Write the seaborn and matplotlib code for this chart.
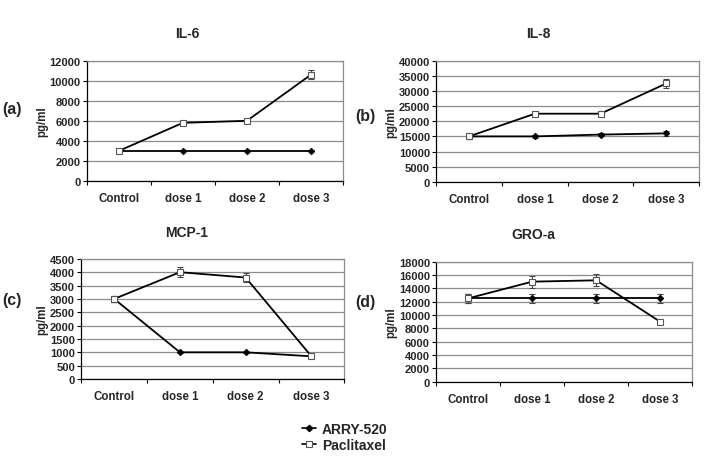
import numpy as np
import pandas as pd
import matplotlib
matplotlib.use("Agg")
import matplotlib.pyplot as plt
import seaborn as sns
from matplotlib.lines import Line2D
from matplotlib.ticker import FixedLocator, MultipleLocator

categories = ["Control", "dose 1", "dose 2", "dose 3"]
series_names = ["ARRY-520", "Paclitaxel"]

il6_arry = [3000, 3000, 3000, 3000]
il6_arry_err = [100, 60, 60, 60]
il6_pac = [3000, 5800, 6000, 10600]
il6_pac_err = [100, 200, 150, 450]

il8_arry = [15000, 15000, 15600, 16000]
il8_arry_err = [700, 600, 500, 800]
il8_pac = [15000, 22500, 22500, 32500]
il8_pac_err = [700, 800, 800, 1600]

mcp1_arry = [3000, 1000, 1000, 850]
mcp1_arry_err = [100, 20, 20, 30]
mcp1_pac = [3000, 4000, 3800, 850]
mcp1_pac_err = [100, 180, 180, 40]

gro_arry = [12500, 12500, 12500, 12500]
gro_arry_err = [700, 700, 700, 700]
gro_pac = [12500, 15000, 15200, 9000]
gro_pac_err = [700, 900, 900, 200]

panels = [
    dict(title="IL-6", tag="(a)", arry=il6_arry, arry_err=il6_arry_err, pac=il6_pac, pac_err=il6_pac_err,
         ymax=12000, step=2000, rect=[0.123, 0.608, 0.362, 0.259], title_xy=(187, 34), tag_xy=(12, 110)),
    dict(title="IL-8", tag="(b)", arry=il8_arry, arry_err=il8_arry_err, pac=il8_pac, pac_err=il8_pac_err,
         ymax=40000, step=5000, rect=[0.617, 0.606, 0.372, 0.261], title_xy=(538, 34), tag_xy=(365, 117)),
    dict(title="MCP-1", tag="(c)", arry=mcp1_arry, arry_err=mcp1_arry_err, pac=mcp1_pac, pac_err=mcp1_pac_err,
         ymax=4500, step=500, rect=[0.115, 0.181, 0.372, 0.259], title_xy=(187, 233), tag_xy=(12, 300)),
    dict(title="GRO-a", tag="(d)", arry=gro_arry, arry_err=gro_arry_err, pac=gro_pac, pac_err=gro_pac_err,
         ymax=18000, step=2000, rect=[0.617, 0.175, 0.362, 0.259], title_xy=(533, 235), tag_xy=(365, 303)),
]

sns.set_theme(style="white")
plt.rcParams["font.family"] = ["Liberation Sans", "DejaVu Sans"]
plt.rcParams["font.weight"] = "bold"

W, H = 707, 464
fig = plt.figure(figsize=(W / 100, H / 100), dpi=100)
fig.patch.set_facecolor("white")

for p in panels:
    ax = fig.add_axes(p["rect"])
    df = pd.DataFrame({
        "x": list(range(4)) * 2,
        "value": p["arry"] + p["pac"],
        "err": p["arry_err"] + p["pac_err"],
        "series": [series_names[0]] * 4 + [series_names[1]] * 4,
    })
    for i, name in enumerate(series_names):
        sub = df[df["series"] == name]
        ax.errorbar(sub["x"], sub["value"], yerr=sub["err"], fmt="none",
                    ecolor="#444444", elinewidth=0.8, capsize=2.5, capthick=0.8, zorder=3)
    sns.lineplot(data=df[df["series"] == series_names[0]], x="x", y="value", ax=ax,
                 color="black", lw=1.3, marker="D", markersize=3.2, markerfacecolor="black",
                 markeredgecolor="black", zorder=4, legend=False)
    sns.lineplot(data=df[df["series"] == series_names[1]], x="x", y="value", ax=ax,
                 color="black", lw=1.3, marker="s", markersize=4.6, markerfacecolor="white",
                 markeredgecolor="#555555", markeredgewidth=0.8, zorder=5, legend=False)
    ax.set_xlim(-0.5, 3.5)
    ax.set_ylim(0, p["ymax"])
    ax.yaxis.set_major_locator(MultipleLocator(p["step"]))
    ax.set_xticks(range(4))
    ax.set_xticklabels(categories, fontsize=8.3, fontweight="bold")
    ax.xaxis.set_minor_locator(FixedLocator([-0.5, 0.5, 1.5, 2.5, 3.5]))
    ax.tick_params(axis="x", which="major", length=0, pad=8)
    ax.tick_params(axis="x", which="minor", length=3, width=0.8, color="black", direction="out", bottom=True)
    ax.tick_params(axis="y", which="major", length=3, width=0.8, color="black", direction="out",
                   left=True, labelsize=8, pad=1.5)
    for lab in ax.get_yticklabels():
        lab.set_fontweight("bold")
    ax.yaxis.grid(True, color="#8c8c8c", lw=0.9)
    ax.set_axisbelow(True)
    ax.set_xlabel("")
    ax.set_ylabel("pg/ml", fontsize=8.3, fontweight="bold", labelpad=1)
    for side in ["top", "right"]:
        ax.spines[side].set_color("#8c8c8c")
        ax.spines[side].set_linewidth(0.9)
    for side in ["left", "bottom"]:
        ax.spines[side].set_color("black")
        ax.spines[side].set_linewidth(0.9)
    tx, ty = p["title_xy"]
    fig.text(tx / W, 1 - ty / H, p["title"], ha="center", va="center", fontsize=10, fontweight="bold")
    lx, ly = p["tag_xy"]
    fig.text(lx / W, 1 - ly / H, p["tag"], ha="center", va="center", fontsize=11.5, fontweight="bold")

handles = [
    Line2D([], [], color="black", lw=1.2, marker="D", markersize=3.2, markerfacecolor="black"),
    Line2D([], [], color="black", lw=1.2, marker="s", markersize=4.6, markerfacecolor="white",
           markeredgecolor="#555555", markeredgewidth=0.8),
]
leg = fig.legend(handles, series_names, loc="center", bbox_to_anchor=(345 / W, 1 - 438 / H),
                 frameon=False, handlelength=1.0, handletextpad=0.4, labelspacing=0.1,
                 prop=dict(size=10, weight="bold"))

fig.savefig("out.png", dpi=100)
